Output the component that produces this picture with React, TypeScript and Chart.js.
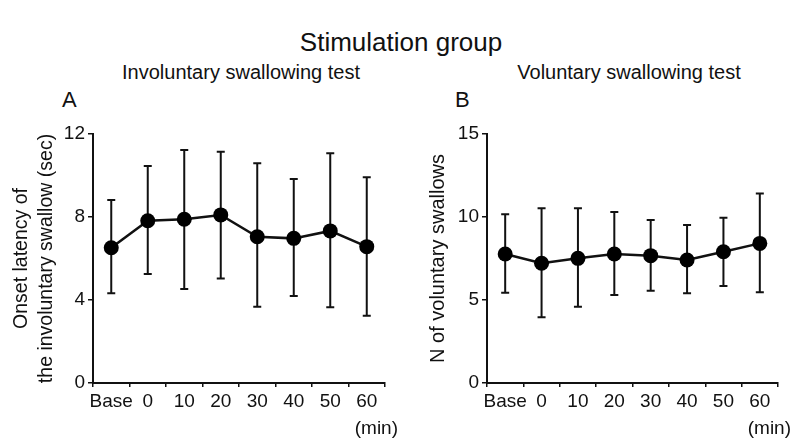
import React, { useEffect, useRef } from "react";
import { Chart, registerables } from "chart.js";

Chart.register(...registerables);

const categories = ["Base", "0", "10", "20", "30", "40", "50", "60"];

const involMean = [6.52, 7.82, 7.89, 8.1, 7.05, 6.97, 7.33, 6.57];
const involUpper = [8.82, 10.46, 11.23, 11.15, 10.59, 9.83, 11.07, 9.91];
const involLower = [4.32, 5.25, 4.53, 5.04, 3.68, 4.19, 3.65, 3.24];

const volMean = [7.77, 7.21, 7.51, 7.77, 7.67, 7.41, 7.91, 8.41];
const volUpper = [10.16, 10.52, 10.52, 10.3, 9.82, 9.52, 9.96, 11.42];
const volLower = [5.44, 3.96, 4.6, 5.3, 5.56, 5.4, 5.84, 5.46];

const involTicks = [0, 4, 8, 12];
const volTicks = [0, 5, 10, 15];

const FONT = "'Liberation Sans', Arial, Helvetica, sans-serif";
const INK = "#111";

const errorBarPlugin = {
  id: "errbars",
  beforeDatasetsDraw(chart: any, _args: any, opts: any) {
    const { ctx } = chart;
    const xs = chart.scales.x;
    const ys = chart.scales.y;
    const upper: number[] = opts.upper || [];
    const lower: number[] = opts.lower || [];
    ctx.save();
    ctx.strokeStyle = INK;
    ctx.lineWidth = 2;
    upper.forEach((u, i) => {
      const px = xs.getPixelForValue(i);
      const pu = ys.getPixelForValue(u);
      const pl = ys.getPixelForValue(lower[i]);
      ctx.beginPath();
      ctx.moveTo(px, pu);
      ctx.lineTo(px, pl);
      ctx.moveTo(px - 4, pu);
      ctx.lineTo(px + 4, pu);
      ctx.moveTo(px - 4, pl);
      ctx.lineTo(px + 4, pl);
      ctx.stroke();
    });
    ctx.restore();
  },
  afterDraw(chart: any, _args: any, opts: any) {
    const { ctx, chartArea } = chart;
    ctx.save();
    ctx.fillStyle = INK;
    ctx.font = `19px ${FONT}`;
    ctx.textAlign = "right";
    ctx.textBaseline = "middle";
    ctx.fillText(opts.unit || "(min)", chartArea.right + (opts.unitDx || 13), chartArea.bottom + 46);
    ctx.restore();
  },
};

type PanelProps = {
  mean: number[];
  upper: number[];
  lower: number[];
  ticks: number[];
  yTitle: string | string[];
  yWidth: number;
  padRight: number;
  titlePad: number;
  width: number;
  titleSize: number;
};

function Panel(p: PanelProps) {
  const ref = useRef<HTMLCanvasElement>(null);
  useEffect(() => {
    if (!ref.current) return;
    const chart = new Chart(ref.current, {
      type: "line",
      data: {
        labels: categories,
        datasets: [
          {
            data: p.mean,
            borderColor: INK,
            borderWidth: 2.5,
            backgroundColor: INK,
            pointBackgroundColor: "#000",
            pointBorderColor: "#000",
            pointRadius: 7.5,
            pointBorderWidth: 0,
            tension: 0,
          },
        ],
      },
      options: {
        animation: false,
        responsive: false,
        maintainAspectRatio: false,
        layout: { padding: { left: 0, right: p.padRight, top: 24, bottom: 0 } },
        plugins: {
          legend: { display: false },
          tooltip: { enabled: false },
          title: { display: false },
          errbars: { upper: p.upper, lower: p.lower },
        } as any,
        scales: {
          x: {
            type: "category",
            offset: true,
            grid: {
              display: true,
              offset: true,
              drawOnChartArea: false,
              drawTicks: true,
              tickLength: 4,
              color: INK,
              lineWidth: 1.5,
            },
            border: { display: true, color: INK, width: 2 },
            ticks: {
              color: INK,
              font: { family: FONT, size: 19 },
              padding: 3,
              maxRotation: 0,
              autoSkip: false,
            },
            afterFit: (s: any) => {
              s.height = 57;
            },
          },
          y: {
            min: p.ticks[0],
            max: p.ticks[p.ticks.length - 1],
            afterBuildTicks: (s: any) => {
              s.ticks = p.ticks.map((v) => ({ value: v }));
            },
            grid: {
              display: true,
              drawOnChartArea: false,
              drawTicks: true,
              tickLength: 5,
              color: INK,
              lineWidth: 1.5,
            },
            border: { display: true, color: INK, width: 2 },
            ticks: {
              color: INK,
              font: { family: FONT, size: 19 },
              padding: 3,
            },
            title: {
              display: true,
              text: p.yTitle,
              color: INK,
              font: { family: FONT, size: p.titleSize, lineHeight: 1.3 },
              padding: { top: p.titlePad, bottom: 0 },
            },
            afterFit: (s: any) => {
              s.width = p.yWidth;
            },
          },
        },
      } as any,
      plugins: [errorBarPlugin],
    });
    return () => chart.destroy();
  }, []);
  return <canvas ref={ref} width={p.width} height={330} style={{ display: "block" }} />;
}

const textStyle: React.CSSProperties = {
  position: "absolute",
  fontFamily: FONT,
  color: INK,
  whiteSpace: "nowrap",
  lineHeight: 1,
};

export default function App() {
  return (
    <div style={{ position: "absolute", left: 0, top: 0, width: 802, height: 440, background: "#fff", overflow: "hidden" }}>
      <div style={{ ...textStyle, left: 0, width: 802, top: 29, fontSize: 26, textAlign: "center" }}>Stimulation group</div>
      <div style={{ ...textStyle, left: 41, width: 400, top: 62, fontSize: 20, textAlign: "center" }}>Involuntary swallowing test</div>
      <div style={{ ...textStyle, left: 429, width: 400, top: 62, fontSize: 20, textAlign: "center" }}>Voluntary swallowing test</div>
      <div style={{ ...textStyle, left: 62, top: 89, fontSize: 22 }}>A</div>
      <div style={{ ...textStyle, left: 455, top: 89, fontSize: 22 }}>B</div>
      <div style={{ position: "absolute", left: 0, top: 110 }}>
        <Panel
          mean={involMean}
          upper={involUpper}
          lower={involLower}
          ticks={involTicks}
          yTitle={["Onset latency of", "the involuntary swallow (sec)"]}
          yWidth={93}
          padRight={15}
          titlePad={9}
          width={400}
          titleSize={19.5}
        />
      </div>
      <div style={{ position: "absolute", left: 400, top: 110 }}>
        <Panel
          mean={volMean}
          upper={volUpper}
          lower={volLower}
          ticks={volTicks}
          yTitle={"N of voluntary swallows"}
          yWidth={87}
          padRight={24}
          titlePad={25}
          width={402}
          titleSize={20}
        />
      </div>
    </div>
  );
}
